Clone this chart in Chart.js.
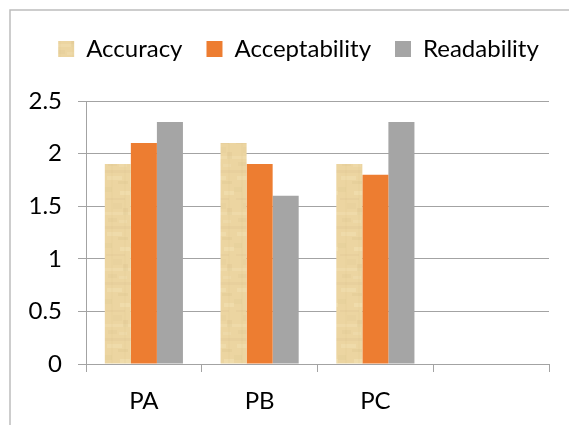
<!DOCTYPE html>
<html>
<head>
<meta charset="utf-8">
<script src="https://cdn.jsdelivr.net/npm/chart.js@4/dist/chart.umd.min.js"></script>
<style>
  html, body { margin: 0; padding: 0; background: #ffffff; }
  #wrap { width: 569px; height: 425px; }
</style>
</head>
<body>
<div id="wrap"><canvas id="c" width="569" height="425"></canvas></div>
<script>
// Chart data
const categories = ['PA', 'PB', 'PC', ''];
const accuracy = [1.9, 2.1, 1.9, null];
const acceptability = [2.1, 1.9, 1.8, null];
const readability = [2.3, 1.6, 2.3, null];
const yTicks = [0, 0.5, 1, 1.5, 2, 2.5];

// Parchment-like fill for the Accuracy series (fixed blotch layout)
function parchmentPattern() {
  const c = document.createElement('canvas');
  c.width = 26; c.height = 56;
  const g = c.getContext('2d');
  g.fillStyle = '#ecd5a1';
  g.fillRect(0, 0, 26, 56);
  const blotches = [
    [0, 2, 26, 3, 'rgba(214,190,136,0.18)'],
    [3, 8, 15, 4, 'rgba(246,228,184,0.4)'],
    [14, 13, 10, 3, 'rgba(212,186,130,0.18)'],
    [0, 19, 8, 5, 'rgba(222,198,144,0.2)'],
    [16, 23, 10, 4, 'rgba(247,230,188,0.4)'],
    [2, 30, 19, 2, 'rgba(212,188,134,0.16)'],
    [9, 35, 9, 6, 'rgba(226,202,150,0.2)'],
    [0, 44, 26, 3, 'rgba(246,228,184,0.35)'],
    [19, 40, 5, 7, 'rgba(208,182,126,0.16)'],
    [4, 50, 9, 4, 'rgba(218,194,140,0.18)'],
    [15, 52, 8, 3, 'rgba(244,226,180,0.35)'],
    [7, 0, 2, 56, 'rgba(220,196,142,0.12)'],
    [20, 0, 2, 56, 'rgba(220,196,142,0.1)']
  ];
  blotches.forEach(([x, y, w, h, col]) => { g.fillStyle = col; g.fillRect(x, y, w, h); });
  return g.createPattern(c, 'repeat');
}

const gridGray = '#a3a3a3';
const fontFamily = 'Lato, "Noto Sans", sans-serif';

// Outer frame lines along the top and left edges
const framePlugin = {
  id: 'frame',
  beforeDraw(chart) {
    const ctx = chart.ctx;
    ctx.save();
    ctx.strokeStyle = '#bdbdbd';
    ctx.lineWidth = 1.5;
    ctx.beginPath();
    ctx.moveTo(10, 425);
    ctx.lineTo(10, 10);
    ctx.lineTo(569, 10);
    ctx.stroke();
    ctx.restore();
  }
};

// Extra room between legend and plot, and legend nudged to the right
const legendPlace = {
  id: 'legendPlace',
  beforeInit(chart) {
    const fit = chart.legend.fit;
    chart.legend.fit = function () {
      fit.bind(chart.legend)();
      this.height += 30;
    };
  },
  afterLayout(chart) {
    chart.legend.left += 24;
    chart.legend.right += 24;
  }
};

new Chart(document.getElementById('c'), {
  type: 'bar',
  data: {
    labels: categories,
    datasets: [
      { label: 'Accuracy', data: accuracy, backgroundColor: parchmentPattern() },
      { label: 'Acceptability', data: acceptability, backgroundColor: '#ed7d31' },
      { label: 'Readability', data: readability, backgroundColor: '#a5a5a5' }
    ]
  },
  options: {
    responsive: false,
    animation: false,
    devicePixelRatio: 1,
    categoryPercentage: 0.675,
    barPercentage: 1,
    layout: { padding: { top: 13, left: 0, right: 20, bottom: 0 } },
    plugins: {
      tooltip: { enabled: false },
      legend: {
        position: 'top',
        labels: {
          boxWidth: 16,
          boxHeight: 16,
          padding: 24,
          color: '#000000',
          font: { family: fontFamily, size: 24 }
        }
      }
    },
    scales: {
      x: {
        grid: { drawOnChartArea: false, drawTicks: true, tickLength: 8, color: gridGray, offset: true },
        border: { display: true, color: gridGray },
        ticks: { color: '#000000', padding: 15, font: { family: fontFamily, size: 24 } },
        afterFit(scale) { scale.height = 61; }
      },
      y: {
        min: 0,
        max: 2.5,
        afterBuildTicks(scale) { scale.ticks = yTicks.map(v => ({ value: v })); },
        grid: { color: gridGray, tickLength: 8, drawTicks: true },
        border: { display: true, color: gridGray },
        ticks: {
          color: '#000000',
          padding: 16,
          font: { family: fontFamily, size: 24 },
          callback: v => String(v)
        },
        afterFit(scale) { scale.width = 86; }
      }
    }
  },
  plugins: [framePlugin, legendPlace]
});
</script>
</body>
</html>
